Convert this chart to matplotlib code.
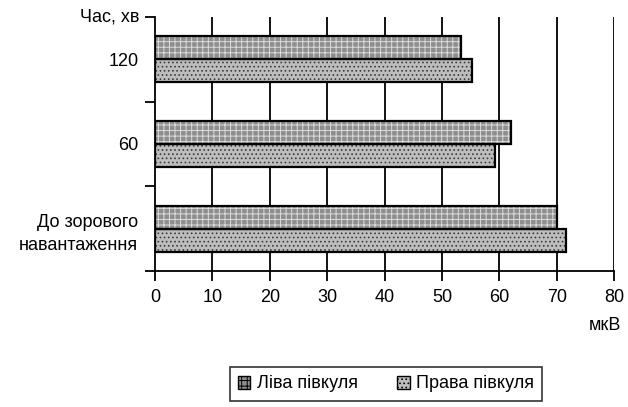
import matplotlib
matplotlib.use("Agg")
import matplotlib.pyplot as plt
import numpy as np
from matplotlib.patches import Patch

plt.rcParams['font.family'] = ['Liberation Sans', 'DejaVu Sans']
plt.rcParams['font.size'] = 13
plt.rcParams['hatch.linewidth'] = 0.7

categories = ["До зорового\nнавантаження", "60", "120"]
left_hemi = [70.0, 62.0, 53.4]    # Ліва півкуля
right_hemi = [71.6, 59.2, 55.3]   # Права півкуля
series_names = ["Ліва півкуля", "Права півкуля"]
x_ticks = [0, 10, 20, 30, 40, 50, 60, 70, 80]

fig = plt.figure(figsize=(6.28, 4.07), dpi=100)
ax = fig.add_axes([155/628, 1-271/407, (614-155)/628, (271-17)/407])

y = np.arange(len(categories))
h = 0.27

for xv in x_ticks[1:]:
    ax.axvline(xv, color='black', lw=1.3, zorder=1)

c1, hc1, hp1 = '#8e8e8e', '#dcdcdc', '+++'
c2, hc2, hp2 = '#bdbdbd', '#3c3c3c', '....'

ax.barh(y + h/2, left_hemi, height=h, color=c1, edgecolor=hc1, hatch=hp1, lw=0, zorder=2)
ax.barh(y - h/2, right_hemi, height=h, color=c2, edgecolor=hc2, hatch=hp2, lw=0, zorder=2)
ax.barh(y + h/2, left_hemi, height=h, facecolor='none', edgecolor='black', lw=1.6, zorder=3)
ax.barh(y - h/2, right_hemi, height=h, facecolor='none', edgecolor='black', lw=1.6, zorder=3)

ax.set_xlim(0, 80)
ax.set_ylim(-0.5, 2.5)
ax.set_xticks(x_ticks)
ax.set_yticks(y)
ax.set_yticklabels(categories, linespacing=1.45)
ax.set_yticks([-0.5, 0.5, 1.5, 2.5], minor=True)
ax.tick_params(axis='y', which='major', length=0, pad=12)
ax.tick_params(axis='y', which='minor', length=7, width=1.3, direction='out')
ax.tick_params(axis='x', length=7, width=1.3, direction='out', pad=6)
for s in ['top', 'right']:
    ax.spines[s].set_visible(False)
for s in ['left', 'bottom']:
    ax.spines[s].set_linewidth(1.3)

fig.text(139/628, 1-17/407, "Час, хв", ha='right', va='center')
fig.text(605/628, 1-326/407, "мкВ", ha='center', va='center')

handles = [Patch(facecolor=c1, edgecolor='black', hatch=hp1),
           Patch(facecolor=c2, edgecolor='black', hatch=hp2)]
leg = fig.legend(handles, series_names, loc='center', bbox_to_anchor=(386/628, 1-384/407),
                 ncol=2, frameon=True, fancybox=False, edgecolor='black',
                 handlelength=0.7, handleheight=0.7, handletextpad=0.35, columnspacing=2.2,
                 borderpad=0.45)
leg.get_frame().set_linewidth(1.2)

fig.savefig("out.png", dpi=100)
